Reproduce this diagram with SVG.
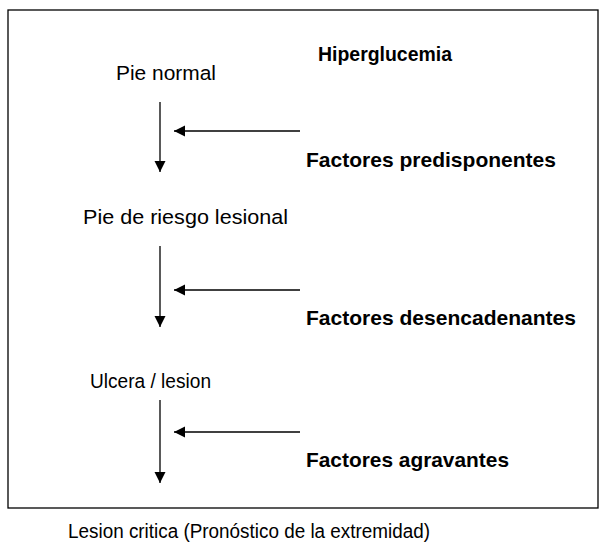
<svg xmlns="http://www.w3.org/2000/svg" width="604" height="543" viewBox="0 0 604 543">
<style>
text{font-family:"Liberation Sans",Arial,sans-serif;font-size:20.5px;fill:#000}
.b{font-weight:bold}
.s{font-size:19.5px}
.c{stroke:#000;stroke-width:1.3;fill:none}
</style>
<defs>
<marker id="ah" markerWidth="12" markerHeight="12" refX="11" refY="5.5" orient="auto" markerUnits="userSpaceOnUse">
<path d="M0,0 L11,5.5 L0,11 Z" fill="#000"/>
</marker>
</defs>
<rect x="8" y="10" width="590" height="498" fill="#fff" stroke="#000" stroke-width="1.3"/>
<g id="hiperglucemia"><text class="b" x="318" y="61" textLength="134" lengthAdjust="spacingAndGlyphs">Hiperglucemia</text></g>
<g id="pie-normal"><text x="116" y="80" textLength="100" lengthAdjust="spacingAndGlyphs">Pie normal</text></g>
<g id="f-predisponentes"><text class="b" x="306" y="167" textLength="250" lengthAdjust="spacingAndGlyphs">Factores predisponentes</text></g>
<g id="pie-riesgo"><text x="83" y="224" textLength="205" lengthAdjust="spacingAndGlyphs">Pie de riesgo lesional</text></g>
<g id="f-desencadenantes"><text class="b" x="306" y="325" textLength="270" lengthAdjust="spacingAndGlyphs">Factores desencadenantes</text></g>
<g id="ulcera"><text x="90" y="388" textLength="121" lengthAdjust="spacingAndGlyphs">Ulcera / lesion</text></g>
<g id="f-agravantes"><text class="b" x="306" y="467" textLength="203" lengthAdjust="spacingAndGlyphs">Factores agravantes</text></g>
<g id="lesion-critica"><text class="s" x="68" y="538" textLength="362" lengthAdjust="spacingAndGlyphs">Lesion critica (Pronóstico de la extremidad)</text></g>
<g id="connectors">
<line class="c" x1="160" y1="102" x2="160" y2="172" marker-end="url(#ah)"/>
<line class="c" x1="300" y1="131" x2="174" y2="131" marker-end="url(#ah)"/>
<line class="c" x1="160" y1="246" x2="160" y2="327" marker-end="url(#ah)"/>
<line class="c" x1="300" y1="290" x2="174" y2="290" marker-end="url(#ah)"/>
<line class="c" x1="160" y1="400" x2="160" y2="483" marker-end="url(#ah)"/>
<line class="c" x1="300" y1="432" x2="174" y2="432" marker-end="url(#ah)"/>
</g>
</svg>
